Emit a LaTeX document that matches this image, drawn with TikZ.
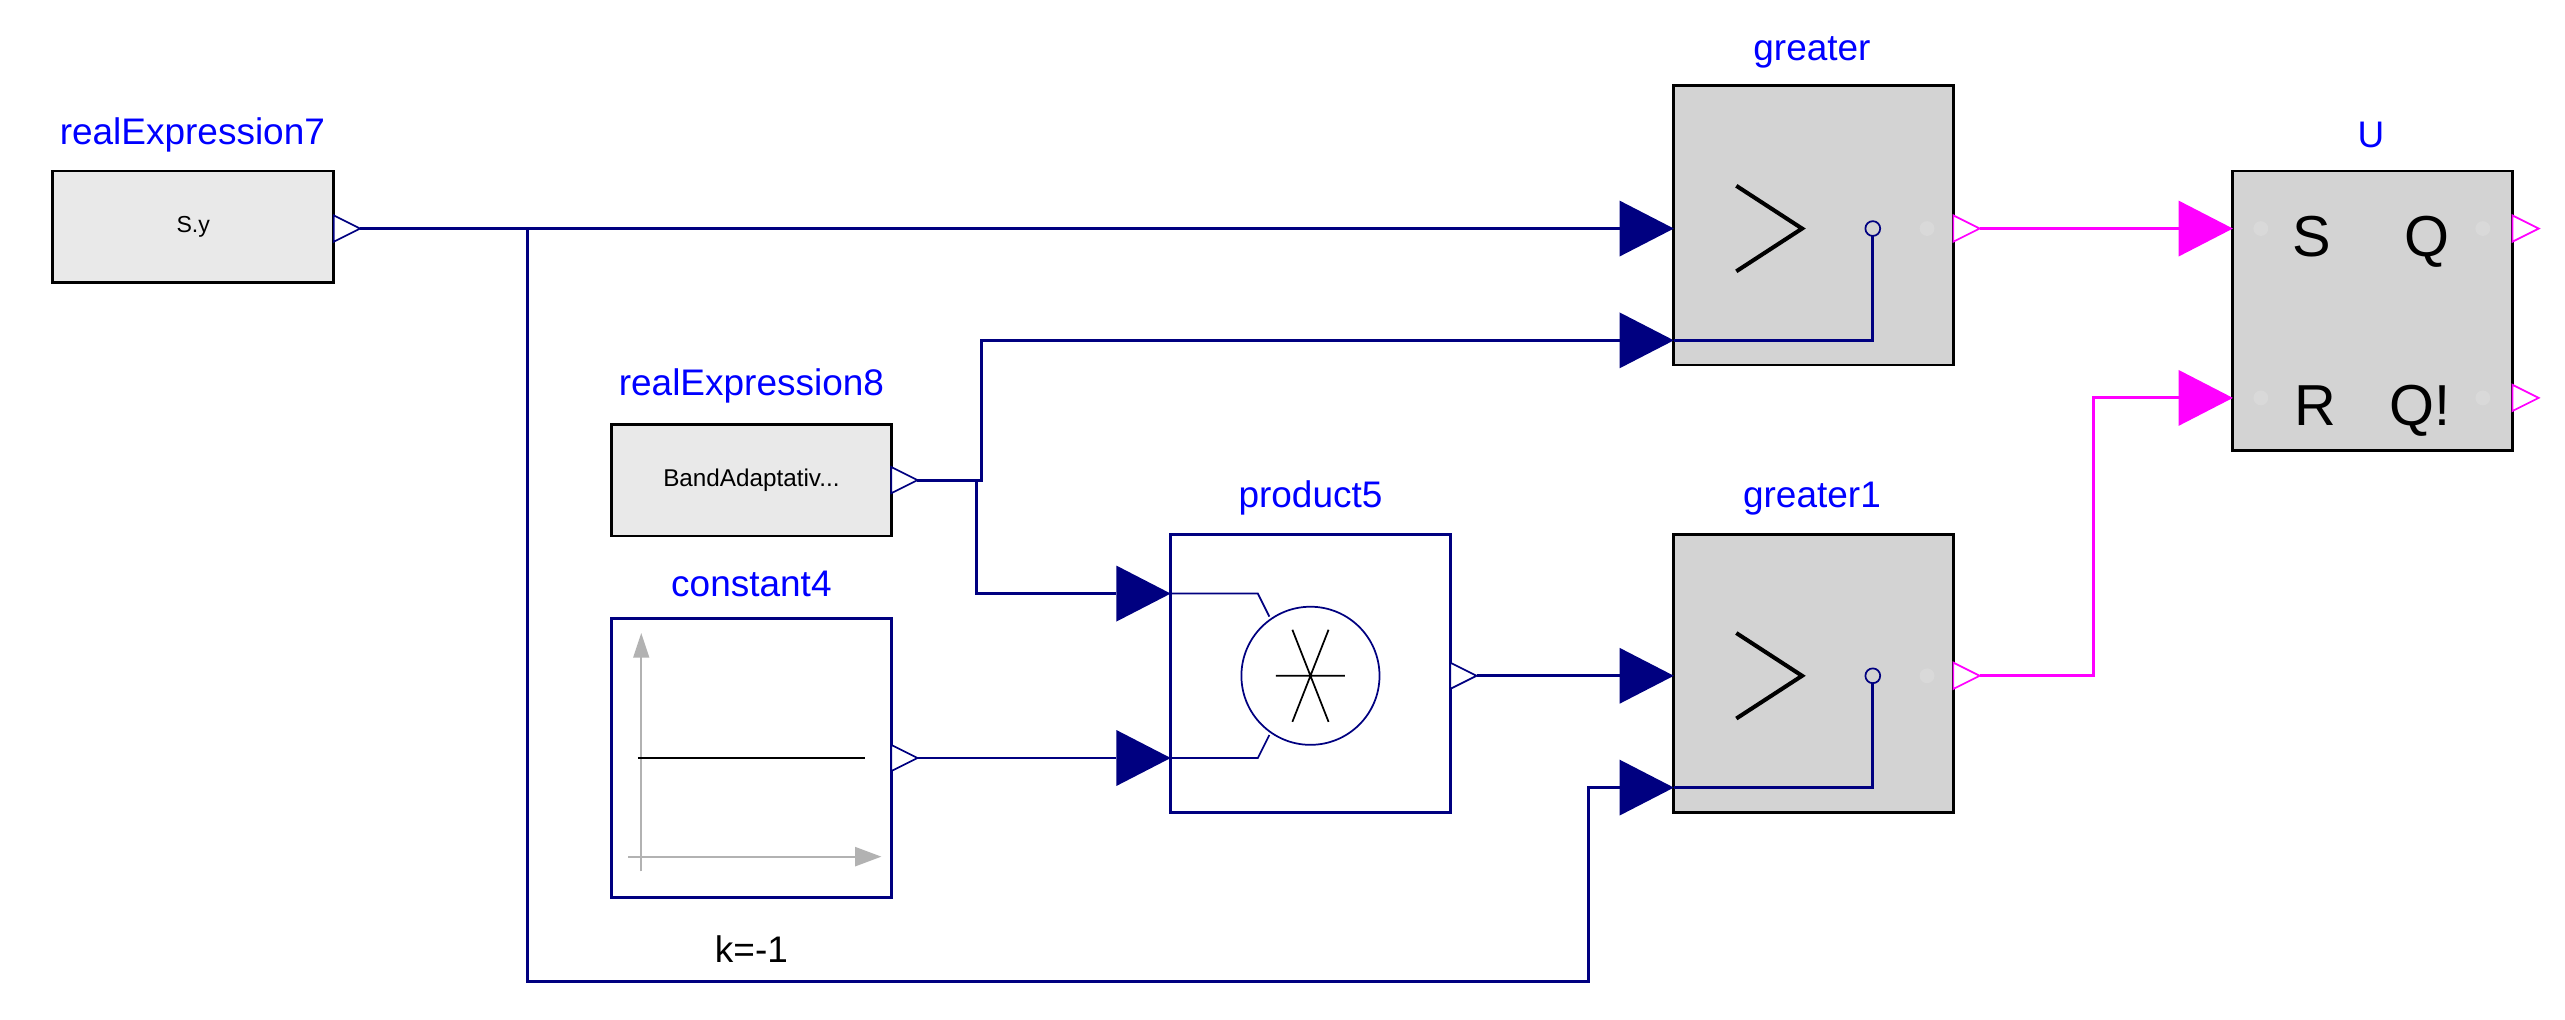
\documentclass[tikz,border=0pt]{standalone}
\usepackage{fontspec}
\setmainfont{Liberation Sans}
\begin{document}
\begin{tikzpicture}[x=0.05cm,y=-0.05cm,line width=2pt]
\definecolor{nav}{RGB}{0,0,128}
\definecolor{lbl}{RGB}{0,0,255}
\definecolor{mag}{RGB}{255,0,255}
\tikzset{
 lab/.style={text=lbl,font=\fontsize{32}{36}\selectfont,inner sep=0},
 gbox/.style={draw=black,fill={rgb,255:red,211;green,211;blue,211},line width=2.5pt},
 ebox/.style={draw=black,fill={rgb,255:red,233;green,233;blue,233},line width=2.5pt},
 bbox/.style={draw=nav,fill=white,line width=2.5pt},
 wire/.style={draw=nav,line width=2.5pt},
 mwire/.style={draw=mag,line width=2.5pt},
 ut/.style={font=\fontsize{50}{52}\selectfont,inner sep=0,anchor=base},
}
\newcommand\inp[3]{\fill[#3] (#1,#2-17)--(#1+33,#2)--(#1,#2+17)--cycle;}
\newcommand\outp[3]{\draw[#3,fill=white,line width=1.5pt] (#1,#2-8)--(#1+16,#2)--(#1,#2+8)--cycle;}
\useasboundingbox (0,0) rectangle (1560,620);
% blocks
\node[ebox,minimum width=171*0.05cm,minimum height=68*0.05cm,font=\fontsize{20}{22}\selectfont] (re7) at (117.5,138) {S.y};
\node[lab] (re7l) at (117,82) {realExpression7};
\node[gbox,minimum width=170*0.05cm,minimum height=170*0.05cm] (gr) at (1103,137) {};
\node[lab] (grl) at (1102,32) {greater};
\node[gbox,minimum width=170*0.05cm,minimum height=170*0.05cm] (U) at (1443,189) {};
\node[lab] (Ul) at (1442,82) {U};
\node[ebox,minimum width=170*0.05cm,minimum height=68*0.05cm,font=\fontsize{21}{24}\selectfont] (re8) at (457,292) {BandAdaptativ...};
\node[lab] (re8l) at (457,235) {realExpression8};
\node[bbox,minimum width=170*0.05cm,minimum height=169*0.05cm] (pr) at (797,409.5) {};
\node[lab] (prl) at (797,303) {product5};
\node[gbox,minimum width=170*0.05cm,minimum height=169*0.05cm] (gr1) at (1103,409.5) {};
\node[lab] (gr1l) at (1102,303) {greater1};
\node[bbox,minimum width=170*0.05cm,minimum height=170*0.05cm] (c4) at (457,461) {};
\node[lab] (c4l) at (457,355) {constant4};
\node[font=\fontsize{32}{36}\selectfont,inner sep=0] (k) at (457,577) {k=-1};
% constant icon
\draw[gray!60,line width=1.5pt] (390,530)--(390,395);
\fill[gray!60] (385,400)--(390,385)--(395,400)--cycle;
\draw[gray!60,line width=1.5pt] (382,521)--(522,521);
\fill[gray!60] (520,515)--(536,521)--(520,527)--cycle;
\draw[black,line width=2pt] (388,461)--(526,461);
% greater icons
\foreach \y/\n in {139/gr,411/gr1}{
 \draw[black,line width=3.5pt] (1056,\y-26)--(1096,\y)--(1056,\y+26);
 \draw[nav,line width=1.5pt] (1139,\y) circle (4.5);
 \fill[gray!30] (1172,\y) circle (4.5);
}
\draw[wire] (1139,143.5)--(1139,207)--(1018,207);
\draw[wire] (1139,415.5)--(1139,479)--(1018,479);
% U text
\node[ut] (S) at (1406,156) {S};
\node[ut] (Q) at (1476,156) {Q};
\node[ut] (R) at (1408,259) {R};
\node[ut] (Qn) at (1472,259) {Q!};
\foreach \x/\y in {1375/139,1375/242,1510/139,1510/242} \fill[gray!30] (\x,\y) circle (4.5);
% product icon
\draw[nav,line width=1.5pt] (797,411) circle (42);
\draw[black,line width=1.5pt] (776,411)--(818,411) (786,383)--(808,439) (786,439)--(808,383);
\draw[nav,line width=1.5pt] (712,361)--(765,361)--(772,375);
\draw[nav,line width=1.5pt] (712,461)--(765,461)--(772,447);
% ports
\outp{203}{139}{nav}
\outp{542}{292}{nav}
\outp{542}{461}{nav}
\outp{882}{411}{nav}
\outp{1188}{139}{mag}
\outp{1188}{411}{mag}
\outp{1528}{139}{mag}
\outp{1528}{242}{mag}
\inp{985}{139}{nav}
\inp{985}{207}{nav}
\inp{985}{411}{nav}
\inp{985}{479}{nav}
\inp{679}{361}{nav}
\inp{679}{461}{nav}
\inp{1325}{139}{mag}
\inp{1325}{242}{mag}
% wires
\draw[wire] (219,139)--(985,139);
\draw[wire] (321,139)--(321,597)--(966,597)--(966,479)--(985,479);
\draw[wire] (558,292)--(597,292)--(597,207)--(985,207);
\draw[wire] (594,292)--(594,361)--(679,361);
\draw[wire] (558,461)--(679,461);
\draw[wire] (898,411)--(985,411);
\draw[mwire] (1204,139)--(1325,139);
\draw[mwire] (1204,411)--(1273,411)--(1273,242)--(1325,242);
\end{tikzpicture}
\end{document}
